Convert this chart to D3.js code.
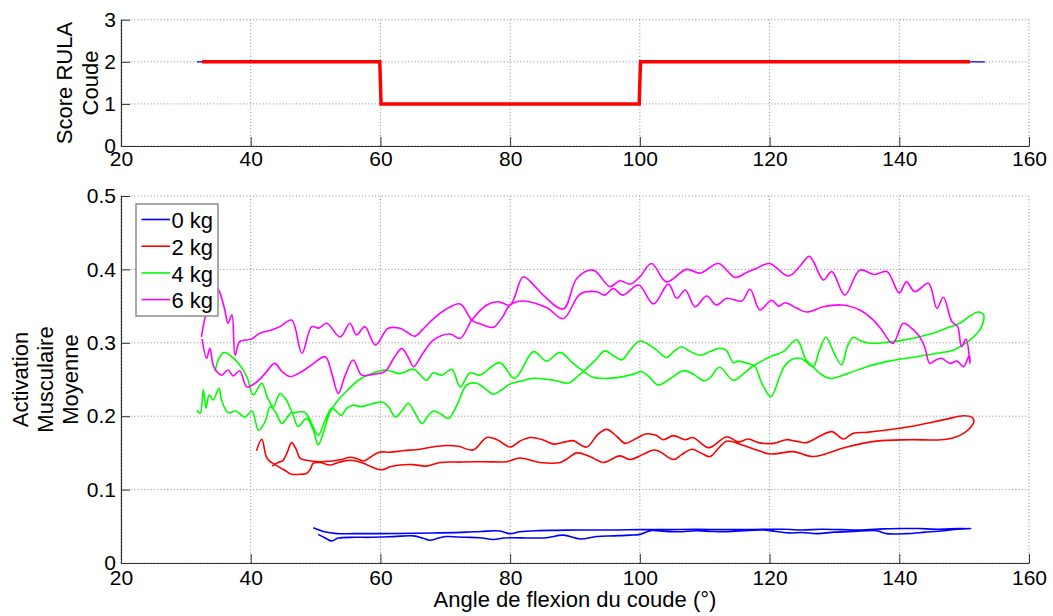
<!DOCTYPE html>
<html>
<head>
<meta charset="utf-8">
<script src="https://cdn.jsdelivr.net/npm/d3@7"></script>
<style>
  html, body { margin: 0; padding: 0; background: #fff; }
  svg { display: block; font-family: "Liberation Sans", Arial, sans-serif; }
</style>
</head>
<body>
<svg id="chart" width="1053" height="616"></svg>
<script>
// ---------------- DATA ----------------
const xTicks = [20, 40, 60, 80, 100, 120, 140, 160];
const xTickLabels = ["20", "40", "60", "80", "100", "120", "140", "160"];
const rulaTicks = [0, 1, 2, 3];
const rulaTickLabels = ["0", "1", "2", "3"];
const actTicks = [0, 0.1, 0.2, 0.3, 0.4, 0.5];
const actTickLabels = ["0", "0.1", "0.2", "0.3", "0.4", "0.5"];

const seriesNames = ["0 kg", "2 kg", "4 kg", "6 kg"];
const seriesColors = ["#0000ff", "#ff0000", "#00ff00", "#ff00ff"];

// RULA score (top panel)
const rulaAngleRed = [32.5, 59.9, 60.1, 99.9, 100.1, 150.9];
const rulaScoreRed = [2, 2, 1, 1, 2, 2];
const rulaAngleBlue = [31.7, 59.9, 60.1, 99.9, 100.1, 153.2];
const rulaScoreBlue = [2, 2, 1, 1, 2, 2];

// 0 kg
const angle0kg = [50.4,51.5,52.5,53.5,56,58.4,62,65.1,66.5,67.6,69,70.2,73,75.3,77.4,79,80.5,83,85.6,88.2,90.8,93.3,96,98.5,100,101.6,104,106,108.8,111,112.9,116,119,121,123.1,125,127.3,130,133,136.5,138.05,141.1,144,146.8,149,151.05,
  149,146,143,140,137.5,134,131,128,125,122,120.1,117,113,108.8,104,100,96.6,93,90.8,87,84,81.5,80.0,78.4,75.5,73.3,69.2,65,59.9,56,53.3,51.2,49.65];
const act0kg = [0.039,0.034,0.030,0.034,0.035,0.035,0.036,0.037,0.034,0.031,0.034,0.036,0.035,0.0345,0.032,0.034,0.0345,0.034,0.0345,0.038,0.0327,0.036,0.037,0.038,0.039,0.044,0.043,0.0425,0.044,0.043,0.0425,0.044,0.045,0.043,0.041,0.0415,0.040,0.042,0.043,0.044,0.040,0.040,0.042,0.044,0.046,0.047,
  0.047,0.046,0.047,0.047,0.0465,0.045,0.0455,0.046,0.045,0.046,0.046,0.0455,0.0455,0.046,0.0455,0.0455,0.045,0.045,0.045,0.0445,0.044,0.0425,0.040,0.0436,0.043,0.042,0.041,0.0405,0.040,0.040,0.040,0.043,0.048];

// 2 kg
const angle2kg = [43.3,44.2,44.9,45.6,46.3,47.0,47.6,48.6,50.7,52.5,54,55.3,56.4,57.4,58.6,59.8,61.5,63.5,66.1,68,70.2,72,74.3,76.4,78,80.0,81.5,83.1,85,86.7,88.5,89.7,91.8,93.5,94.9,96.5,97.7,99.5,101.05,102.5,103.6,105.2,107.0,108.2,110.6,113.4,115.2,116.7,118.3,120.6,122.6,124,125.7,127.8,129.6,131.4,132.9,135.0,140.1,146.8,149.9,151.2,151.5,151.4,149.9,147.3,141.6,136.5,131.9,126.7,123.7,120.1,118.0,116,113.4,112,110.8,109.4,108.0,106.5,105.2,103.1,102.1,100.5,98.5,96.9,94.4,92.3,90.3,88.8,87.7,84.6,81.5,79.5,76,72.5,69.2,67.1,65,63.0,61.5,60.2,58.6,57.4,55.3,53.5,52.2,50.7,49.65,49.2,48.6,47.8,46.3,45.3,44.5,43.6,43.0,42.4,41.7,40.9];
const act2kg = [0.132,0.137,0.139,0.150,0.164,0.155,0.143,0.140,0.138,0.139,0.141,0.144,0.142,0.139,0.145,0.151,0.151,0.153,0.155,0.158,0.160,0.159,0.154,0.171,0.168,0.158,0.166,0.171,0.168,0.162,0.165,0.1667,0.158,0.175,0.182,0.172,0.163,0.170,0.176,0.174,0.168,0.1735,0.168,0.171,0.157,0.172,0.165,0.169,0.164,0.163,0.168,0.166,0.164,0.173,0.179,0.169,0.1767,0.178,0.1835,0.195,0.2007,0.1985,0.194,0.190,0.1767,0.1685,0.168,0.166,0.158,0.145,0.1517,0.1485,0.154,0.160,0.166,0.155,0.145,0.150,0.155,0.148,0.141,0.1517,0.154,0.148,0.141,0.146,0.137,0.145,0.150,0.142,0.137,0.137,0.143,0.138,0.138,0.1375,0.137,0.132,0.134,0.1335,0.131,0.127,0.131,0.136,0.140,0.137,0.1335,0.137,0.136,0.128,0.122,0.121,0.121,0.126,0.130,0.135,0.138,0.145,0.1685,0.153];

// 4 kg
const angle4kg = [31.7,32.2,32.7,33.1,33.6,34.2,35.1,35.5,36.5,37.7,39.1,40.2,41.2,42.2,43.0,43.8,44.8,45.6,46.3,47.3,48.6,49.65,50.4,51.3,52.2,53.5,55,56.6,58.1,60.7,63.0,65.1,67.1,68.1,69.5,71.0,72.3,73.8,75.3,78.4,80.7,83.6,85.6,87.7,89.7,91.3,
  92.8,93.9,96.5,98.9,100.3,101.5,102.8,104.5,106.7,108.3,109.8,110.8,112.3,114.4,116,117.4,120.1,122.1,124.2,125.6,126.7,127.8,129.3,132,135,138.5,142.7,146,148.3,150.9,152.3,152.9,153.0,152.2,150.8,149.4,147,145.2,142.5,140.1,137.5,135.5,134.2,132.9,132,131.1,130,128.7,127.7,126.7,125.5,124.7,123.3,122.3,121.6,120.2,118.8,117.7,116.2,115.2,114.4,113.3,112.3,110.8,109.4,107.8,106.4,105.2,104.1,102.3,100.0,98.5,97.2,96,94.6,93,91.3,
  90.1,89.0,86.7,83.6,81.8,80.0,78.7,77.4,76.1,74.8,73.3,71.8,70.5,69.3,68.2,67.3,66.4,65.3,64.3,63.3,62.3,61.3,60.4,58.7,57.1,55.8,54.8,54.0,53.3,52.5,51.5,50.4,49.4,48.4,47.5,46.5,45.5,44.5,43.5,42.6,41.7,40.4,39.4,38.1,36.8,35.8,35.0,34.5];
const act4kg = [0.208,0.204,0.236,0.211,0.229,0.222,0.238,0.222,0.205,0.207,0.199,0.207,0.181,0.192,0.213,0.206,0.190,0.198,0.205,0.186,0.197,0.181,0.161,0.180,0.205,0.222,0.236,0.249,0.256,0.263,0.258,0.264,0.249,0.259,0.256,0.264,0.240,0.259,0.256,0.273,0.2516,0.288,0.275,0.287,0.272,0.261,
  0.253,0.2516,0.2525,0.257,0.2606,0.253,0.2425,0.250,0.262,0.257,0.2484,0.252,0.2666,0.249,0.258,0.268,0.281,0.288,0.304,0.277,0.2675,0.258,0.2516,0.258,0.2675,0.275,0.281,0.286,0.290,0.304,0.316,0.3266,0.338,0.342,0.336,0.327,0.319,0.313,0.307,0.303,0.300,0.2993,0.302,0.3075,0.295,0.270,0.285,0.3075,0.290,0.2675,0.275,0.279,0.2766,0.268,0.255,0.2266,0.245,0.268,0.273,0.275,0.273,0.290,0.2925,0.288,0.283,0.288,0.2947,0.288,0.280,0.292,0.3025,0.290,0.2766,0.282,0.289,0.275,0.261,
  0.252,0.245,0.249,0.2516,0.248,0.244,0.236,0.230,0.238,0.245,0.2425,0.215,0.197,0.203,0.207,0.200,0.190,0.205,0.2176,0.207,0.199,0.212,0.219,0.217,0.213,0.215,0.211,0.201,0.206,0.211,0.195,0.174,0.190,0.205,0.206,0.205,0.222,0.231,0.213,0.225,0.245,0.229,0.254,0.272,0.283,0.2866,0.2766,0.261];

// 6 kg
const angle6kg = [32.5,33.2,33.7,34.2,34.75,35.5,36.5,37.3,38.3,39.4,40.7,42.2,43.7,44.8,46.1,47.9,49.4,51.5,52.5,53.5,54.5,55.8,57.1,58.8,60.7,62.2,63.3,64.3,65.1,66.5,68.2,70.7,72.3,74.1,76.4,78.2,80.0,82.0,83.5,85.1,88.2,90.3,92.8,95.4,96.9,98.5,100.0,101.8,104.1,107.2,109.3,112.1,114.7,116.3,118.0,120.0,122.9,124.7,126.1,126.8,128.3,129.6,131.6,133.9,136.2,138.1,140.0,141.1,142.4,144.5,145.8,146.8,148.1,149.0,149.6,150.3,150.9,
  150.8,149.9,148.9,147.8,146.5,145.5,144.7,143.9,143,141.6,140.6,139.0,137.3,136.0,133.9,131.1,128.3,125.7,124.2,122.4,121.4,120.3,118.5,117.0,115.7,113.4,111.8,110.3,108.5,107.0,105.7,104.4,102.1,99.8,97.4,95.9,94.6,93.3,90.8,88.2,85.6,82.0,80.0,78.8,77.4,75.6,74.1,72.3,70,68.2,66.5,65.3,64,63.0,61.2,59.2,57.6,56.3,55.3,53.8,51.7,50.5,49.4,47.9,46.3,44.5,43.2,41.4,40.1,38.3,37.6,37.1,36.5,36.0,35.3,34.8,33.8,33.0,32.4];
const act6kg = [0.305,0.279,0.2925,0.270,0.261,0.256,0.263,0.255,0.262,0.240,0.245,0.258,0.272,0.261,0.254,0.261,0.270,0.281,0.258,0.231,0.254,0.2766,0.256,0.257,0.261,0.281,0.292,0.280,0.2675,0.285,0.304,0.312,0.306,0.331,0.3515,0.356,0.3515,0.390,0.380,0.365,0.346,0.388,0.399,0.3765,0.3846,0.380,0.390,0.408,0.383,0.400,0.395,0.408,0.389,0.395,0.4015,0.408,0.391,0.4046,0.418,0.410,0.3856,0.397,0.365,0.399,0.393,0.397,0.368,0.383,0.3696,0.381,0.347,0.362,0.329,0.322,0.2947,0.305,0.272,
  0.283,0.2675,0.275,0.272,0.279,0.276,0.272,0.2947,0.310,0.322,0.3266,0.299,0.3175,0.331,0.3447,0.3515,0.349,0.342,0.347,0.3546,0.350,0.358,0.3447,0.373,0.357,0.3606,0.3515,0.3638,0.349,0.372,0.3606,0.380,0.353,0.3787,0.365,0.374,0.365,0.3696,0.3665,0.333,0.348,0.357,0.3515,0.335,0.321,0.325,0.331,0.353,0.345,0.333,0.318,0.309,0.315,0.3197,0.3197,0.297,0.322,0.3106,0.3266,0.308,0.3266,0.320,0.322,0.2857,0.331,0.322,0.3175,0.313,0.305,0.3015,0.283,0.338,0.3266,0.345,0.367,0.375,0.360,0.336,0.308];

// ---------------- DRAWING ----------------
const svg = d3.select("#chart");
const FONT_TICK = 21, FONT_LABEL = 22;
const axisColor = "#333";
const gridColor = "#8a8a8a";

const x = d3.scaleLinear().domain([20, 160]).range([121, 1029]);
const yTop = d3.scaleLinear().domain([0, 3]).range([146, 19.7]);
const yBot = d3.scaleLinear().domain([0, 0.5]).range([563, 196]);

function drawPanel(yScale, yTicks, yLabels, xPad) {
  const g = svg.append("g");
  const [y0, y1] = yScale.range();
  // grid
  g.append("g").selectAll("line").data(xTicks).join("line")
    .attr("x1", d => x(d)).attr("x2", d => x(d))
    .attr("y1", y0).attr("y2", y1)
    .attr("stroke", gridColor).attr("stroke-width", 1)
    .attr("stroke-dasharray", "1,2.3");
  g.append("g").selectAll("line").data(yTicks).join("line")
    .attr("x1", x.range()[0]).attr("x2", x.range()[1])
    .attr("y1", d => yScale(d)).attr("y2", d => yScale(d))
    .attr("stroke", gridColor).attr("stroke-width", 1)
    .attr("stroke-dasharray", "1,2.3");
  // axes
  const xa = d3.axisBottom(x).tickValues(xTicks)
    .tickFormat((d, i) => xTickLabels[i])
    .tickSizeInner(-9).tickSizeOuter(0).tickPadding(xPad);
  const ya = d3.axisLeft(yScale).tickValues(yTicks)
    .tickFormat((d, i) => yLabels[i])
    .tickSizeInner(-9).tickSizeOuter(0).tickPadding(5);
  const gx = g.append("g").attr("transform", `translate(0,${y0})`).call(xa);
  const gy = g.append("g").attr("transform", `translate(${x.range()[0]},0)`).call(ya);
  [gx, gy].forEach(a => {
    a.select(".domain").attr("stroke", axisColor).attr("stroke-width", 1.2);
    a.selectAll(".tick line").attr("stroke", axisColor).attr("stroke-width", 1);
    a.selectAll(".tick text").attr("fill", "#000")
      .style("font-size", FONT_TICK + "px")
      .style("font-family", '"Liberation Sans", Arial, sans-serif');
  });
  return g;
}

drawPanel(yTop, rulaTicks, rulaTickLabels, 5);
drawPanel(yBot, actTicks, actTickLabels, 7);

// Top panel step lines
const lineTop = d3.line().x(d => x(d[0])).y(d => yTop(d[1]));
svg.append("path")
  .attr("d", lineTop(d3.zip(rulaAngleBlue, rulaScoreBlue)))
  .attr("fill", "none").attr("stroke", "#0000ff").attr("stroke-width", 1.2);
svg.append("path")
  .attr("d", lineTop(d3.zip(rulaAngleRed, rulaScoreRed)))
  .attr("fill", "none").attr("stroke", "#ff0000").attr("stroke-width", 3.5);

// Bottom panel curves
const lineBot = d3.line().x(d => x(d[0])).y(d => yBot(d[1]))
  .curve(d3.curveCatmullRom.alpha(0.5));
const series = [
  [angle0kg, act0kg], [angle2kg, act2kg], [angle4kg, act4kg], [angle6kg, act6kg]
];
series.forEach((s, i) => {
  svg.append("path")
    .attr("d", lineBot(d3.zip(s[0], s[1])))
    .attr("fill", "none")
    .attr("stroke", seriesColors[i])
    .attr("stroke-width", 1.6)
    .attr("stroke-linejoin", "round");
});

// Legend
const leg = svg.append("g");
leg.append("rect").attr("x", 136).attr("y", 204).attr("width", 82).attr("height", 112)
  .attr("fill", "#fff").attr("stroke", "#8c8c8c").attr("stroke-width", 1.5);
seriesNames.forEach((n, i) => {
  const cy = 219.5 + i * 26.7;
  leg.append("line").attr("x1", 141.5).attr("x2", 170).attr("y1", cy).attr("y2", cy)
    .attr("stroke", seriesColors[i]).attr("stroke-width", 1.6);
  leg.append("text").attr("x", 171.5).attr("y", cy + 8.8)
    .style("font-size", "22px").attr("fill", "#000").text(n);
});

// Axis labels
svg.append("text").attr("x", 575).attr("y", 607).attr("text-anchor", "middle")
  .style("font-size", FONT_LABEL + "px").text("Angle de flexion du coude (°)");

function vlabel(lines, xs, cy) {
  lines.forEach((t, i) => {
    svg.append("text")
      .attr("transform", `translate(${xs[i]},${cy}) rotate(-90)`)
      .attr("text-anchor", "middle")
      .style("font-size", FONT_LABEL + "px").text(t);
  });
}
vlabel(["Score RULA", "Coude"], [71.5, 97.5], 83);
vlabel(["Activation", "Musculaire", "Moyenne"], [28, 53, 78], 379.5);
</script>
</body>
</html>
